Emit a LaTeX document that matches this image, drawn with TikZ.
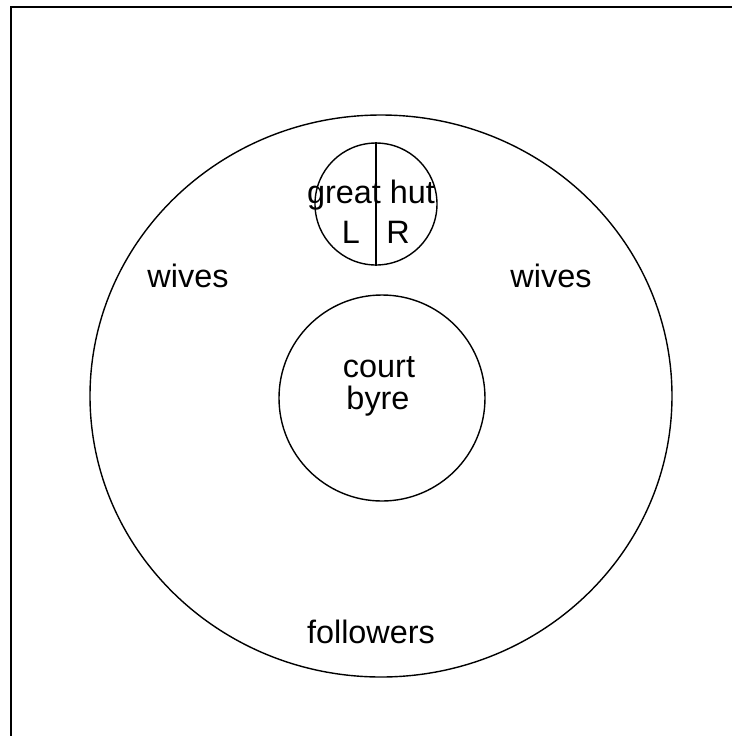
\documentclass[tikz,border=0pt]{standalone}
\usepackage{fontspec}
\setmainfont{Liberation Sans}
\usetikzlibrary{positioning,shapes.geometric}

\begin{document}
\begin{tikzpicture}[
  x=0.5pt, y=-0.5pt,
  ring/.style={draw, circle, inner sep=0pt, line width=0.7pt},
  lbl/.style={font=\fontsize{16.2}{19}\selectfont, inner sep=0pt, anchor=base}
]
\useasboundingbox (0,0) rectangle (732,736);

% frame
\coordinate (frameBL) at (11,736);
\coordinate (frameTL) at (11,7);
\coordinate (frameTR) at (732,7);
\draw[line width=1pt] (frameBL) -- (frameTL) -- (frameTR);

% rings
\node (yard) [draw, ellipse, inner sep=0pt, line width=0.7pt,
  minimum width=291pt, minimum height=281pt] at (381,396) {};
\node (court) [ring, minimum size=103pt] at (382,398) {};
\node (hut) [ring, minimum size=61pt] at (376,204) {};
\draw[line width=0.7pt] (hut.north) -- (hut.south);

% labels
\node (hutLabel) [lbl] at (371,203) {great hut};
\node (hutL) [lbl] at (351,243) {L};
\node (hutR) [lbl] at (398,243) {R};
\node (wivesL) [lbl] at (188,287) {wives};
\node (wivesR) [lbl] at (551,287) {wives};
\node (courtLabel) [lbl] at (379,377) {court};
\node (byreLabel) [lbl] at (378,409) {byre};
\node (followers) [lbl] at (371,643) {followers};
\end{tikzpicture}
\end{document}
